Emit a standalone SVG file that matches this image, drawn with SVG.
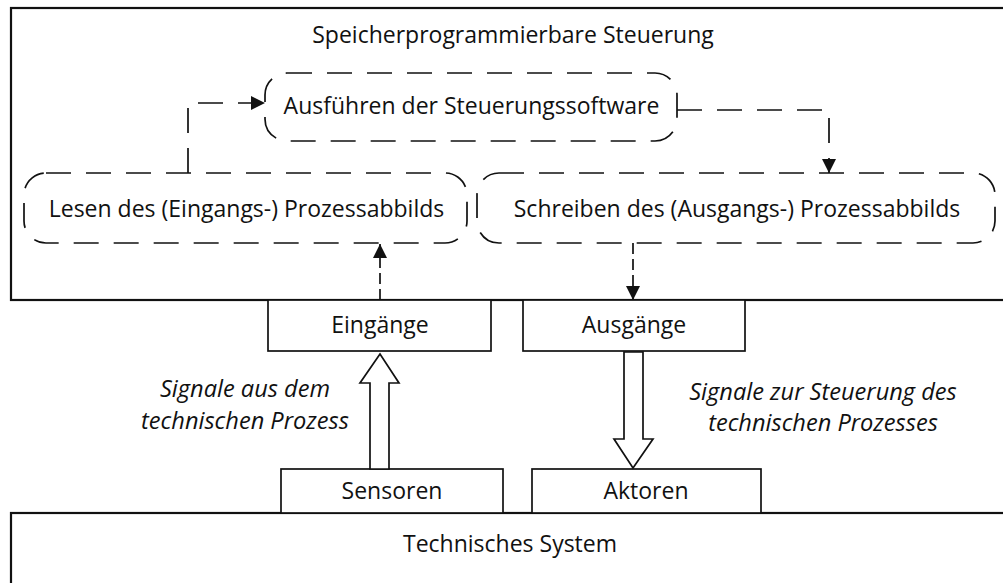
<svg xmlns="http://www.w3.org/2000/svg" width="1003" height="583" viewBox="0 0 1003 583">
<style>
  .t{font-family:"Open Sans","Liberation Sans",sans-serif;font-size:23px;fill:#111;text-anchor:middle}
  .i{font-style:italic;font-size:23.6px}
  .box{fill:#fff;stroke:#111;stroke-width:1.7}
  .outer{fill:none;stroke:#111;stroke-width:2.2}
  .proc{fill:none;stroke:#111;stroke-width:1.7;stroke-dasharray:25 15}
  .c{fill:none;stroke:#111;stroke-width:1.7;stroke-dasharray:25 15}
  .cs{fill:none;stroke:#111;stroke-width:1.7;stroke-dasharray:11 5}
  .fat{fill:#fff;stroke:#111;stroke-width:1.7;stroke-linejoin:miter}
</style>
<defs>
  <marker id="ah" markerUnits="userSpaceOnUse" markerWidth="15" markerHeight="15" refX="14" refY="7" orient="auto">
    <path d="M0,0 L14,7 L0,14 z" fill="#111"/>
  </marker>
</defs>
<rect width="1003" height="583" fill="#fff"/>

<g id="sps">
  <rect class="outer" x="11" y="8" width="1010" height="292"/>
  <text class="t" x="513" y="42.5">Speicherprogrammierbare Steuerung</text>
</g>
<g id="tech">
  <rect class="outer" x="11" y="513" width="1010" height="100"/>
  <text class="t" x="510" y="552">Technisches System</text>
</g>

<g id="ausfuehren">
  <rect class="proc" x="265" y="73" width="412" height="68" rx="22" ry="22"/>
  <text class="t" x="471.5" y="114">Ausführen der Steuerungssoftware</text>
</g>
<g id="lesen">
  <rect class="proc" x="24" y="173" width="443" height="70" rx="22" ry="22"/>
  <text class="t" x="246.5" y="217">Lesen des (Eingangs-) Prozessabbilds</text>
</g>
<g id="schreiben">
  <rect class="proc" x="477" y="173" width="518" height="70" rx="22" ry="22"/>
  <text class="t" x="737" y="217">Schreiben des (Ausgangs-) Prozessabbilds</text>
</g>

<g id="eingaenge">
  <rect class="box" x="268" y="300" width="223" height="51"/>
  <text class="t" x="380" y="333">Eingänge</text>
</g>
<g id="ausgaenge">
  <rect class="box" x="523" y="300" width="222" height="51"/>
  <text class="t" x="634" y="333">Ausgänge</text>
</g>
<g id="sensoren">
  <rect class="box" x="281" y="469" width="222" height="44"/>
  <text class="t" x="392" y="499">Sensoren</text>
</g>
<g id="aktoren">
  <rect class="box" x="532" y="469" width="229" height="44"/>
  <text class="t" x="646" y="499">Aktoren</text>
</g>

<g id="connectors">
  <path class="c" d="M188,173 V103 H265" marker-end="url(#ah)"/>
  <path class="c" d="M677,110 H829 V173" marker-end="url(#ah)"/>
  <path class="cs" d="M380,300 V244" marker-end="url(#ah)"/>
  <path class="cs" d="M633,243 V300" marker-end="url(#ah)"/>
  <polygon class="fat" points="370,469 370,383 360,383 380,354 399,383 389,383 389,469"/>
  <polygon class="fat" points="624,352 624,439 614,439 633,468 653,439 643,439 643,352"/>
</g>

<g id="labels">
  <text class="t i" x="245" y="397">Signale aus dem</text>
  <text class="t i" x="245" y="429">technischen Prozess</text>
  <text class="t i" x="823" y="400">Signale zur Steuerung des</text>
  <text class="t i" x="823" y="431">technischen Prozesses</text>
</g>
</svg>
